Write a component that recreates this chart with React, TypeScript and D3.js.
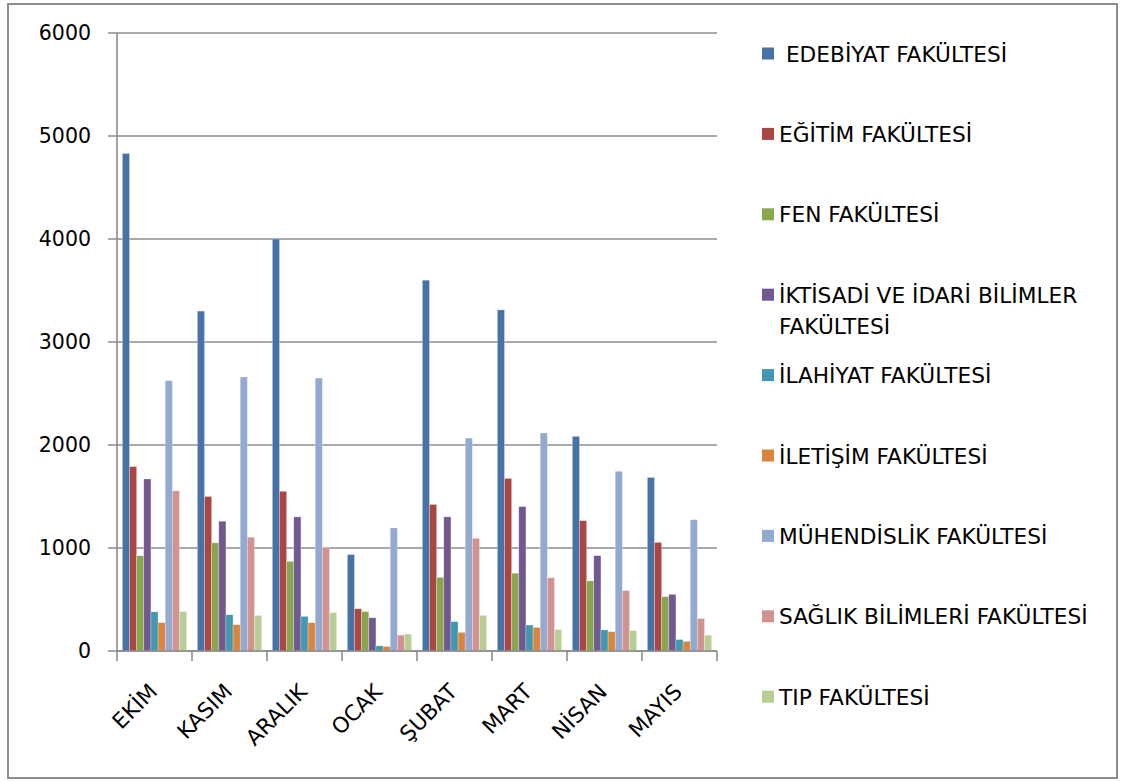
import React from "react";
import * as d3 from "d3";

const months = ["EKİM", "KASIM", "ARALIK", "OCAK", "ŞUBAT", "MART", "NİSAN", "MAYIS"];

const seriesNames = [
  " EDEBİYAT FAKÜLTESİ",
  "EĞİTİM FAKÜLTESİ",
  "FEN FAKÜLTESİ",
  "İKTİSADİ VE İDARİ BİLİMLER|FAKÜLTESİ",
  "İLAHİYAT FAKÜLTESİ",
  "İLETİŞİM FAKÜLTESİ",
  "MÜHENDİSLİK FAKÜLTESİ",
  "SAĞLIK BİLİMLERİ FAKÜLTESİ",
  "TIP FAKÜLTESİ",
];

const edebiyat = [4830, 3300, 4000, 936, 3600, 3312, 2084, 1685];
const egitim = [1790, 1500, 1550, 410, 1423, 1675, 1265, 1054];
const fen = [925, 1050, 870, 383, 715, 755, 681, 527];
const iktisadi = [1670, 1260, 1302, 322, 1302, 1402, 926, 550];
const ilahiyat = [380, 352, 336, 50, 285, 252, 205, 111];
const iletisim = [275, 255, 275, 44, 181, 228, 188, 94];
const muhendislik = [2625, 2660, 2650, 1195, 2067, 2117, 1745, 1275];
const saglik = [1555, 1105, 1005, 154, 1094, 711, 587, 315];
const tip = [383, 345, 372, 164, 346, 208, 198, 154];

const yTicks = [0, 1000, 2000, 3000, 4000, 5000, 6000];

const colors = [
  "#4672A8",
  "#AA4643",
  "#89A54E",
  "#71588F",
  "#4198AF",
  "#DB843D",
  "#93A9CF",
  "#D19392",
  "#B9CD96",
];

const allSeries = [edebiyat, egitim, fen, iktisadi, ilahiyat, iletisim, muhendislik, saglik, tip];

export default function App() {
  const W = 1121;
  const H = 781;
  const left = 117;
  const right = 717;
  const top = 33;
  const bottom = 651;
  const font = "'DejaVu Sans', sans-serif";

  const x = d3.scaleBand<string>().domain(months).range([left, right]).padding(0);
  const y = d3.scaleLinear().domain([0, 6000]).range([bottom, top]);
  const bw = x.bandwidth() / (allSeries.length + 1.5);
  const off = bw * 0.75;

  const legendY0 = 54;
  const legendStep = 80.4;

  return (
    <svg
      width={W}
      height={H}
      style={{ position: "absolute", left: 0, top: 0, background: "#fff" }}
      fontFamily={font}
    >
      <rect x={0} y={0} width={W} height={H} fill="#fff" />
      <rect x={8} y={4} width={1109} height={774} fill="#fff" stroke="#8c8c8c" strokeWidth={2} />
      {yTicks.map((t) => (
        <line key={"g" + t} x1={left - 9} x2={right} y1={y(t)} y2={y(t)} stroke="#8c8c8c" strokeWidth={1.6} />
      ))}
      {yTicks.map((t) => (
        <text key={"yl" + t} x={91} y={y(t) + 7} textAnchor="end" fontSize={20.5} fill="#000">
          {t}
        </text>
      ))}
      {allSeries.map((vals, si) =>
        vals.map((v, mi) => {
          const bx = (x(months[mi]) as number) + off + si * bw;
          return (
            <rect
              key={`b${si}-${mi}`}
              x={bx}
              y={y(v)}
              width={bw}
              height={y(0) - y(v)}
              fill={colors[si]}
              stroke="rgba(255,255,255,0.45)"
              strokeWidth={0.6}
            />
          );
        })
      )}
      <line x1={left} x2={left} y1={top} y2={bottom} stroke="#8c8c8c" strokeWidth={1.6} />
      <line x1={left} x2={right} y1={bottom} y2={bottom} stroke="#8c8c8c" strokeWidth={1.6} />
      {months.concat(["_end"]).map((m, i) => {
        const tx = left + i * x.bandwidth();
        return <line key={"xt" + i} x1={tx} x2={tx} y1={bottom} y2={bottom + 10} stroke="#8c8c8c" strokeWidth={1.6} />;
      })}
      {months.map((m) => {
        const cx = (x(m) as number) + x.bandwidth() / 2;
        return (
          <text
            key={"xl" + m}
            transform={`translate(${cx + 4},${693}) rotate(-45)`}
            textAnchor="end"
            fontSize={21.5}
            fill="#000"
          >
            {m}
          </text>
        );
      })}
      {seriesNames.map((name, i) => {
        const cy = legendY0 + i * legendStep;
        const lines = name.split("|");
        return (
          <g key={"lg" + i}>
            <rect x={762} y={cy - 6.5} width={12} height={12} fill={colors[i]} />
            {lines.map((ln, li) => (
              <text
                key={li}
                x={779}
                y={cy + 7.5 + li * 31}
                fontSize={21.7}
                fill="#000"
                style={{ whiteSpace: "pre" }}
                xmlSpace="preserve"
              >
                {ln}
              </text>
            ))}
          </g>
        );
      })}
    </svg>
  );
}
